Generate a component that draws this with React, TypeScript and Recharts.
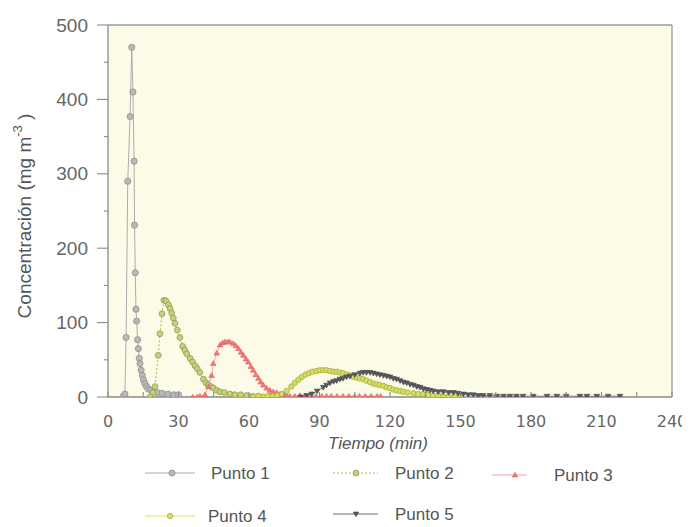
import React from 'react';
import { LineChart, Line, XAxis, YAxis, CartesianGrid, ReferenceLine, Legend } from 'recharts';

// [tiempo (min), concentración (mg m-3)]
const punto1: [number, number][] = [
  [6.5, 1], [7.2, 4], [7.7, 80], [8.4, 290], [9.4, 377], [10.1, 470], [10.6, 410], [11.1, 317],
  [11.3, 231], [11.6, 167], [11.9, 118], [12.2, 102], [12.6, 77], [12.9, 65], [13.3, 52], [13.6, 45],
  [14.1, 36], [14.6, 29], [15.1, 23], [15.7, 18], [16.4, 14], [17.2, 11], [18.2, 9], [19.5, 7],
  [21, 6], [23, 5], [25.5, 4], [28, 3], [30, 3],
];
const punto2: [number, number][] = [
  [18, 0], [19.1, 6], [20, 14], [21.4, 56], [22.1, 85], [23, 112], [23.8, 130], [24.7, 129],
  [25.7, 124], [26.4, 119], [27.1, 113], [27.8, 106], [28.5, 99], [29.5, 90], [30.6, 80], [31.8, 68],
  [32.7, 63], [33.5, 58], [34.9, 52], [36, 47], [37, 42], [38, 38], [39.1, 33], [40.6, 24],
  [41.7, 19], [42.7, 16], [43.8, 14], [44.8, 12], [46.3, 9], [47.7, 7], [49.5, 6], [51.9, 4],
  [54, 3], [56.5, 3], [59, 2], [61.5, 1], [64, 1], [66, 0], [68.5, 1], [71, 0],
];
const punto3: [number, number][] = [
  [36, 0], [38, 0], [39.1, 1], [41.3, 3], [42.7, 14], [44.1, 29], [44.8, 45], [46.3, 59],
  [47.7, 70], [48.8, 73], [49.8, 74], [50.9, 74], [51.9, 74], [53.3, 72], [54.4, 69], [55.5, 65],
  [56.6, 60], [57.6, 56], [58.7, 51], [59.7, 47], [60.8, 41], [61.8, 36], [62.9, 30], [64, 25],
  [65, 20], [66.1, 16], [67.5, 12], [68.9, 9], [70.3, 7], [71.8, 6], [73.2, 4], [74.6, 3],
  [76, 2], [77.4, 1], [79.5, 1], [81.7, 2], [84, 1], [86, 1], [88.5, 1], [91, 1], [93, 1],
  [95, 1], [97.5, 1], [100, 1], [102.5, 1], [105, 1], [107, 1], [109.5, 1], [112, 1], [114.5, 1], [116, 1],
];
const punto4: [number, number][] = [
  [62, 0], [64, 1], [66, 0], [68, 1], [70, 1], [72, 2], [74, 4], [76, 8], [78, 14], [79.5, 19],
  [81, 23], [82.5, 27], [84, 30], [85.5, 32], [87, 34], [88.8, 35], [90.2, 36], [91.6, 36],
  [93, 36], [94.5, 35], [96, 34], [97.3, 34], [98.7, 33], [100, 32], [101.5, 30], [103, 29],
  [104.4, 27], [105.8, 26], [107.2, 25], [108.6, 24], [110, 22], [111.5, 20], [113, 18], [114.3, 17],
  [115.7, 16], [117.2, 15], [118.6, 13], [120, 12], [121.4, 10], [122.8, 9], [124.3, 8], [125.7, 7],
  [127.5, 6], [130, 5], [132, 4], [134.2, 4], [136.3, 3], [138.4, 2], [140.5, 2], [142.7, 1],
  [145, 1], [147.5, 1], [150, 1],
];
const punto5: [number, number][] = [
  [82, 0], [84.5, 2], [86.7, 4], [89, 8], [91.6, 13], [93, 16], [94.5, 19], [96, 21], [97.3, 22],
  [98.7, 24], [100, 25], [101.5, 27], [103, 28], [105, 30], [107.2, 32], [108.6, 33], [110, 33],
  [111.5, 33], [112.9, 32], [114.3, 31], [115.7, 30], [117.2, 29], [118.6, 28], [120, 27], [121.4, 25],
  [122.8, 24], [124.3, 22], [125.7, 20], [127.1, 19], [128.6, 17], [130, 16], [131.4, 14], [132.8, 13],
  [134.2, 11], [135.6, 10], [137, 9], [138.4, 8], [140.5, 7], [142.7, 7], [145, 6], [147, 6],
  [149, 5], [151.2, 4], [153.3, 3], [155.4, 3], [157.5, 2], [159.6, 2], [162.5, 2], [165.5, 1],
  [168.3, 1], [171, 1], [173.8, 1], [176.6, 1], [181, 1], [186.8, 1], [191, 1], [195, 1],
  [200.8, 1], [203.8, 1], [208, 1], [212.8, 1], [217.9, 1],
];

const xTicks = [0, 15, 30, 45, 60, 75, 90, 105, 120, 135, 150, 165, 180, 195, 210, 225, 240];
const yTicks = [0, 50, 100, 150, 200, 250, 300, 350, 400, 450, 500];
const seriesNames = ['Punto 1', 'Punto 2', 'Punto 3', 'Punto 4', 'Punto 5'];
const xLabel = 'Tiempo (min)';

const toData = (arr: [number, number][]) => arr.map(([t, v]) => ({ t, v }));

const circleDot = (fill: string, stroke: string, r: number) => (props: any) => {
  const { cx, cy, index } = props;
  if (cx == null || cy == null) return <g key={`c${index}`} />;
  return <circle key={`c${index}`} cx={cx} cy={cy} r={r} fill={fill} stroke={stroke} strokeWidth={0.8} />;
};
const triDot = (fill: string, stroke: string, s: number, down: boolean) => (props: any) => {
  const { cx, cy, index } = props;
  if (cx == null || cy == null) return <g key={`t${index}`} />;
  const d = down
    ? `M${cx - s},${cy - s * 0.7} L${cx + s},${cy - s * 0.7} L${cx},${cy + s} Z`
    : `M${cx - s},${cy + s * 0.7} L${cx + s},${cy + s * 0.7} L${cx},${cy - s} Z`;
  return <path key={`t${index}`} d={d} fill={fill} stroke={stroke} strokeWidth={0.6} />;
};

const styles = [
  { stroke: '#acacac', dash: undefined, dot: circleDot('#b8b8b8', '#909090', 3.1) },
  { stroke: '#a7b85e', dash: '2 2', dot: circleDot('#c7d07c', '#8e9c52', 2.9) },
  { stroke: '#f2a0a0', dash: undefined, dot: triDot('#f07a7a', '#e06060', 2.8, false) },
  { stroke: '#e3e35c', dash: undefined, dot: circleDot('#d8de5c', '#a6ae48', 2.7) },
  { stroke: '#6c6c74', dash: undefined, dot: triDot('#5a5a62', '#44444a', 2.8, true) },
];
const allData = [punto1, punto2, punto3, punto4, punto5].map(toData);

const XTick = (props: any) => {
  const { x, y, payload } = props;
  const v = payload.value;
  return (
    <g>
      <line x1={x} x2={x} y1={y} y2={y - 5} stroke="#8a8a8a" strokeWidth={1.1} />
      {v % 30 === 0 && (
        <text x={x} y={y + 24} textAnchor="middle" dominantBaseline="central"
          fontFamily="'DejaVu Sans', sans-serif" fontSize={16} fill="#666">{v}</text>
      )}
    </g>
  );
};
const YTick = (props: any) => {
  const { x, y, payload } = props;
  const v = payload.value;
  const major = v % 100 === 0;
  return (
    <g>
      <line x1={x - (major ? 11 : 4)} x2={x} y1={y} y2={y} stroke="#8a8a8a" strokeWidth={1.1} />
      {major && (
        <text x={x - 20} y={y} textAnchor="end" dominantBaseline="central"
          fontFamily="'Liberation Sans', Arial, sans-serif" fontSize={19} fill="#666">{v}</text>
      )}
    </g>
  );
};

const legendPos = [
  { x1: 137, x2: 187, mx: 164, tx: 203, y: 465 },
  { x1: 325, x2: 370, mx: 348, tx: 387, y: 465 },
  { x1: 484, x2: 519, mx: 507, tx: 546, y: 467 },
  { x1: 137, x2: 187, mx: 162, tx: 200, y: 508 },
  { x1: 325, x2: 370, mx: 348, tx: 387, y: 506 },
];

const LegendContent = () => (
  <svg width={682} height={519} style={{ position: 'absolute', left: 0, top: 0 }}>
    {seriesNames.map((name, i) => {
      const p = legendPos[i];
      const st = styles[i];
      const dotEl = st.dot({ cx: p.mx, cy: p.y, index: 1000 + i });
      return (
        <g key={name}>
          <line x1={p.x1} x2={p.x2} y1={p.y} y2={p.y} stroke={st.stroke} strokeWidth={1} strokeDasharray={st.dash} />
          {dotEl}
          <text x={p.tx} y={p.y} dominantBaseline="central" fontFamily="'Liberation Sans', Arial, sans-serif"
            fontSize={17} fill="#555">{name}</text>
        </g>
      );
    })}
  </svg>
);

const YLabel = () => (
  <text transform="translate(16,208) rotate(-90)" textAnchor="middle" dominantBaseline="central"
    fontFamily="'Liberation Sans', Arial, sans-serif" fontSize={19} fill="#555">
    Concentración (mg m<tspan dy={-7} fontSize={13}>-3</tspan><tspan dy={7}> )</tspan>
  </text>
);

const XLabel = (props: any) => {
  const { viewBox } = props;
  return (
    <text x={viewBox.x + 270} y={viewBox.y + 46} textAnchor="middle" dominantBaseline="central"
      fontFamily="'Liberation Sans', Arial, sans-serif" fontStyle="italic" fontSize={17} fill="#555">
      {xLabel}
    </text>
  );
};

export default function App() {
  return (
    <div style={{ position: 'relative', width: 682, height: 519 }}>
      <LineChart width={682} height={519} margin={{ top: 17, right: 18, bottom: 100, left: 0 }}>
        <CartesianGrid horizontal={false} vertical={false} fill="#fcfbe7" />
        <XAxis type="number" dataKey="t" domain={[0, 240]} ticks={xTicks} interval={0}
          allowDataOverflow height={30} tickSize={0} tickMargin={0} tickLine={false}
          axisLine={{ stroke: '#8a8a8a', strokeWidth: 1.3 }} tick={<XTick />}
          label={<XLabel />} />
        <YAxis type="number" domain={[0, 500]} ticks={yTicks} interval={0} width={100}
          allowDataOverflow tickSize={0} tickMargin={0} tickLine={false}
          axisLine={{ stroke: '#8a8a8a', strokeWidth: 1.3 }} tick={<YTick />}
          label={<YLabel />} />
        <ReferenceLine y={500} stroke="#9a9a9a" strokeWidth={1.3} />
        <ReferenceLine x={240} stroke="#9a9a9a" strokeWidth={1.3} />
        {allData.map((d, i) => (
          <Line key={seriesNames[i]} data={d} dataKey="v" name={seriesNames[i]} type="linear"
            stroke={styles[i].stroke} strokeWidth={1} strokeDasharray={styles[i].dash}
            dot={styles[i].dot} activeDot={false} isAnimationActive={false} />
        ))}
        <Legend layout="vertical" align="center" verticalAlign="middle" content={<LegendContent />}
          wrapperStyle={{ position: 'absolute', left: 0, top: 0, width: 682, height: 519, pointerEvents: 'none' }} />
      </LineChart>
    </div>
  );
}
